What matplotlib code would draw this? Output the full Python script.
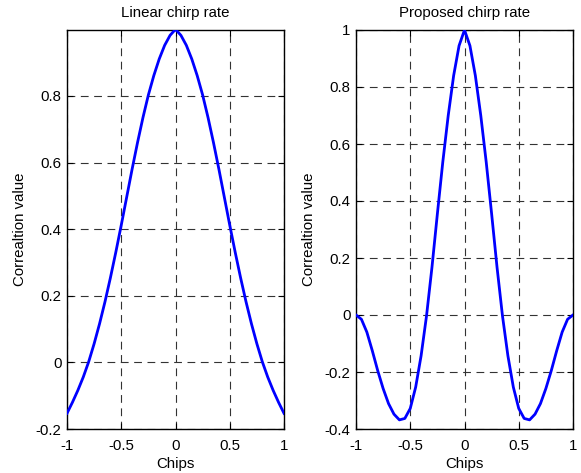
import matplotlib
matplotlib.use("Agg")
import matplotlib.pyplot as plt
import numpy as np

plt.rcParams['font.family'] = ['Liberation Sans', 'DejaVu Sans']

# Chip offsets (half range, mirrored for the positive side)
chips_half = [-1.00, -0.95, -0.90, -0.85, -0.80, -0.75, -0.70, -0.65, -0.60, -0.55,
              -0.50, -0.45, -0.40, -0.35, -0.30, -0.25, -0.20, -0.15, -0.10, -0.05, 0.00]

# Correlation of the linear chirp-rate code
linear_half = [-0.153, -0.120, -0.084, -0.044, 0.002, 0.056, 0.116, 0.182, 0.254, 0.331,
               0.412, 0.496, 0.580, 0.660, 0.735, 0.803, 0.861, 0.911, 0.952, 0.982, 1.000]

# Correlation of the proposed chirp-rate code
proposed_half = [0.000, -0.015, -0.060, -0.125, -0.195, -0.258, -0.311, -0.348, -0.368, -0.363,
                 -0.328, -0.253, -0.143, -0.003, 0.167, 0.355, 0.537, 0.700, 0.840, 0.945, 1.000]

titles = ["Linear chirp rate", "Proposed chirp rate"]
xlabel_text = "Chips"
ylabel_text = "Correaltion value"
x_ticks = [-1, -0.5, 0, 0.5, 1]
x_ticklabels = ["-1", "-0.5", "0", "0.5", "1"]
y_ticks_left = [-0.2, 0, 0.2, 0.4, 0.6, 0.8]
y_ticklabels_left = ["-0.2", "0", "0.2", "0.4", "0.6", "0.8"]
y_ticks_right = [-0.4, -0.2, 0, 0.2, 0.4, 0.6, 0.8, 1]
y_ticklabels_right = ["-0.4", "-0.2", "0", "0.2", "0.4", "0.6", "0.8", "1"]


def mirror(xs, ys):
    x = np.array(xs)
    y = np.array(ys)
    return np.concatenate([x, -x[-2::-1]]), np.concatenate([y, y[-2::-1]])


W, H = 581, 473
fig = plt.figure(figsize=(W / 100, H / 100), dpi=100)
ax1 = fig.add_axes([67 / W, (H - 429) / H, 217 / W, 399 / H])
ax2 = fig.add_axes([356 / W, (H - 429) / H, 217 / W, 399 / H])

series = [mirror(chips_half, linear_half), mirror(chips_half, proposed_half)]
ylims = [(-0.2, 0.998), (-0.4, 1.0)]
yticks = [(y_ticks_left, y_ticklabels_left), (y_ticks_right, y_ticklabels_right)]

fs = 10.8
for ax, (x, y), title, ylim, (yt, ytl) in zip([ax1, ax2], series, titles, ylims, yticks):
    ax.plot(x, y, color=(0, 0, 1), linewidth=2.0, zorder=3)
    ax.set_xlim(-1, 1)
    ax.set_ylim(*ylim)
    ax.set_xticks(x_ticks)
    ax.set_xticklabels(x_ticklabels)
    ax.set_yticks(yt)
    ax.set_yticklabels(ytl)
    ax.grid(True, color='0.2', linestyle=(0, (7, 5)), linewidth=0.8)
    ax.tick_params(direction='in', top=True, right=True, length=4, width=0.8,
                   labelsize=fs, colors='black')
    ax.tick_params(axis='x', pad=7)
    ax.tick_params(axis='y', pad=4)
    for s in ax.spines.values():
        s.set_linewidth(1.0)
        s.set_color('black')
    ax.set_title(title, fontsize=fs, pad=9)
    ax.set_xlabel(xlabel_text, fontsize=fs, labelpad=3)
    ax.set_ylabel(ylabel_text, fontsize=fs, labelpad=6)

fig.savefig("out.png", dpi=100, facecolor='white')
